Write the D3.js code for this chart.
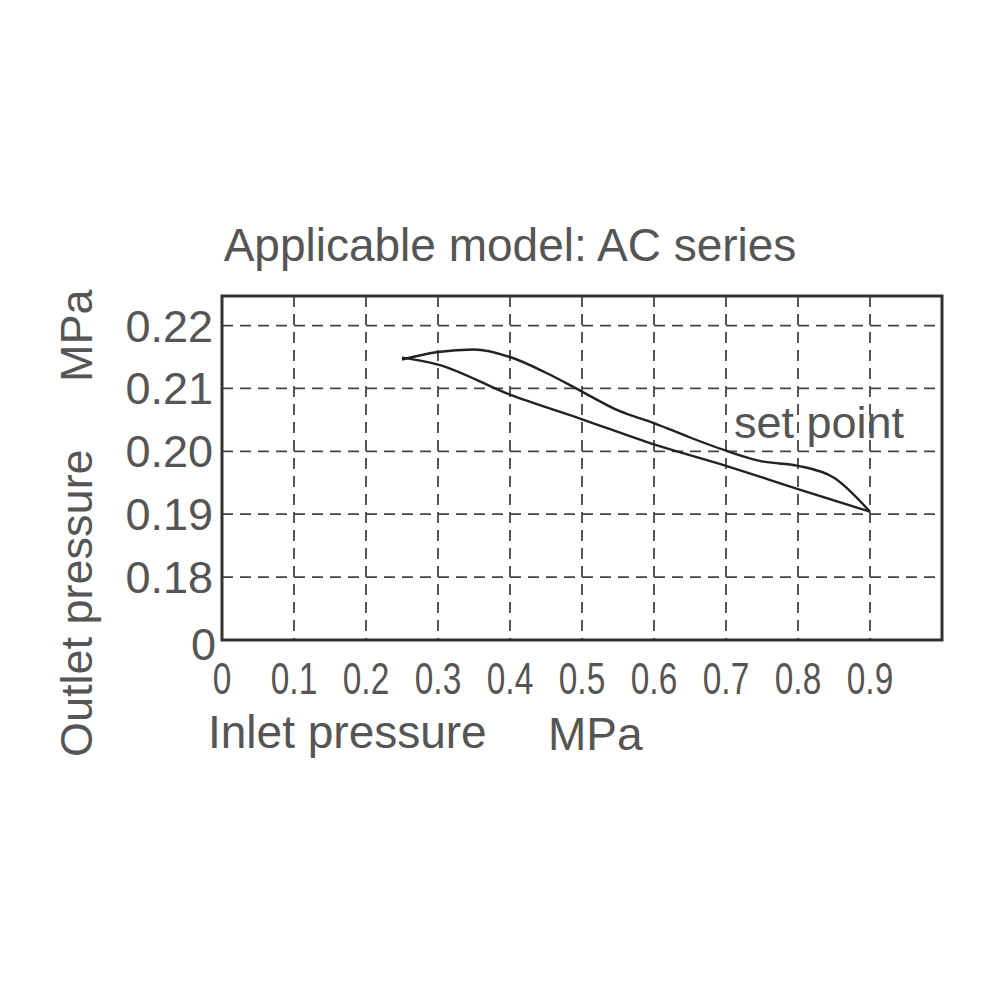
<!DOCTYPE html>
<html><head><meta charset="utf-8">
<script src="https://cdn.jsdelivr.net/npm/d3@7"></script>
<style>body{margin:0;background:#fff}</style></head>
<body><svg id="c" width="1000" height="1000"></svg>
<script>
const xTicks=[0,0.1,0.2,0.3,0.4,0.5,0.6,0.7,0.8,0.9];
const yTicks=[0.18,0.19,0.20,0.21,0.22];
const upperX=[0.25,0.3,0.35,0.4,0.45,0.5,0.55,0.6,0.65,0.7,0.75,0.8,0.85,0.9];
const upperY=[0.2146,0.2158,0.2162,0.2150,0.2125,0.2095,0.2065,0.2045,0.2022,0.2001,0.1984,0.1977,0.1958,0.1904];
const lowerX=[0.25,0.3,0.4,0.5,0.6,0.7,0.8,0.9];
const lowerY=[0.2149,0.2138,0.2090,0.2051,0.2011,0.1977,0.1940,0.1904];
const svg=d3.select("#c");
const L=222,R=942,T=296,B=640;
const x=d3.scaleLinear().domain([0,1]).range([L,R]);
const y=d3.scaleLinear().domain([0.17,0.2247]).range([B,T]);
const g=svg.append("g");
g.selectAll(".vg").data(xTicks.slice(1)).join("line").attr("x1",d=>x(d)).attr("x2",d=>x(d)).attr("y1",T).attr("y2",B)
 .attr("stroke","#444").attr("stroke-width",1.8).attr("stroke-dasharray","11,7");
g.selectAll(".hg").data(yTicks).join("line").attr("y1",d=>y(d)).attr("y2",d=>y(d)).attr("x1",L).attr("x2",R)
 .attr("stroke","#444").attr("stroke-width",1.8).attr("stroke-dasharray","11,7");
g.append("rect").attr("x",L).attr("y",T).attr("width",R-L).attr("height",B-T).attr("fill","none").attr("stroke","#333").attr("stroke-width",3);
const line=d3.line().x(d=>x(d[0])).y(d=>y(d[1])).curve(d3.curveMonotoneX);
g.append("path").attr("d",line(upperX.map((v,i)=>[v,upperY[i]]))).attr("fill","none").attr("stroke","#222").attr("stroke-width",2.4);
g.append("path").attr("d",line(lowerX.map((v,i)=>[v,lowerY[i]]))).attr("fill","none").attr("stroke","#222").attr("stroke-width",2.4);
const f="Liberation Sans, Arial, sans-serif",col="#555";
g.selectAll(".xt").data(xTicks).join("text").attr("x",d=>x(d)).attr("y",694).attr("text-anchor","middle")
 .attr("font-family",f).attr("font-size",44).attr("fill",col).attr("transform",d=>`translate(${x(d)},0) scale(0.76,1) translate(${-x(d)},0)`).text(d=>d===0?"0":d3.format(".1f")(d));
g.selectAll(".yt").data(yTicks).join("text").attr("x",213).attr("y",d=>y(d)+16).attr("text-anchor","end")
 .attr("font-family",f).attr("font-size",45).attr("fill",col).text(d=>d3.format(".2f")(d));
g.append("text").attr("x",216).attr("y",660).attr("text-anchor","end").attr("font-family",f).attr("font-size",45).attr("fill",col).text("0");
svg.append("text").attr("x",510).attr("y",261).attr("text-anchor","middle").attr("font-family",f).attr("font-size",46).attr("fill",col).text("Applicable model: AC series");
svg.append("text").attr("x",208).attr("y",748).attr("font-family",f).attr("font-size",46).attr("fill",col).text("Inlet pressure");
svg.append("text").attr("x",548).attr("y",750).attr("font-family",f).attr("font-size",46).attr("fill",col).text("MPa");
svg.append("text").attr("transform","translate(92,757) rotate(-90)").attr("font-family",f).attr("font-size",45).attr("fill",col).text("Outlet pressure");
svg.append("text").attr("transform","translate(92,382) rotate(-90)").attr("font-family",f).attr("font-size",45).attr("fill",col).text("MPa");
svg.append("text").attr("x",734).attr("y",438).attr("font-family",f).attr("font-size",45).attr("fill",col).text("set point");
</script></body></html>
